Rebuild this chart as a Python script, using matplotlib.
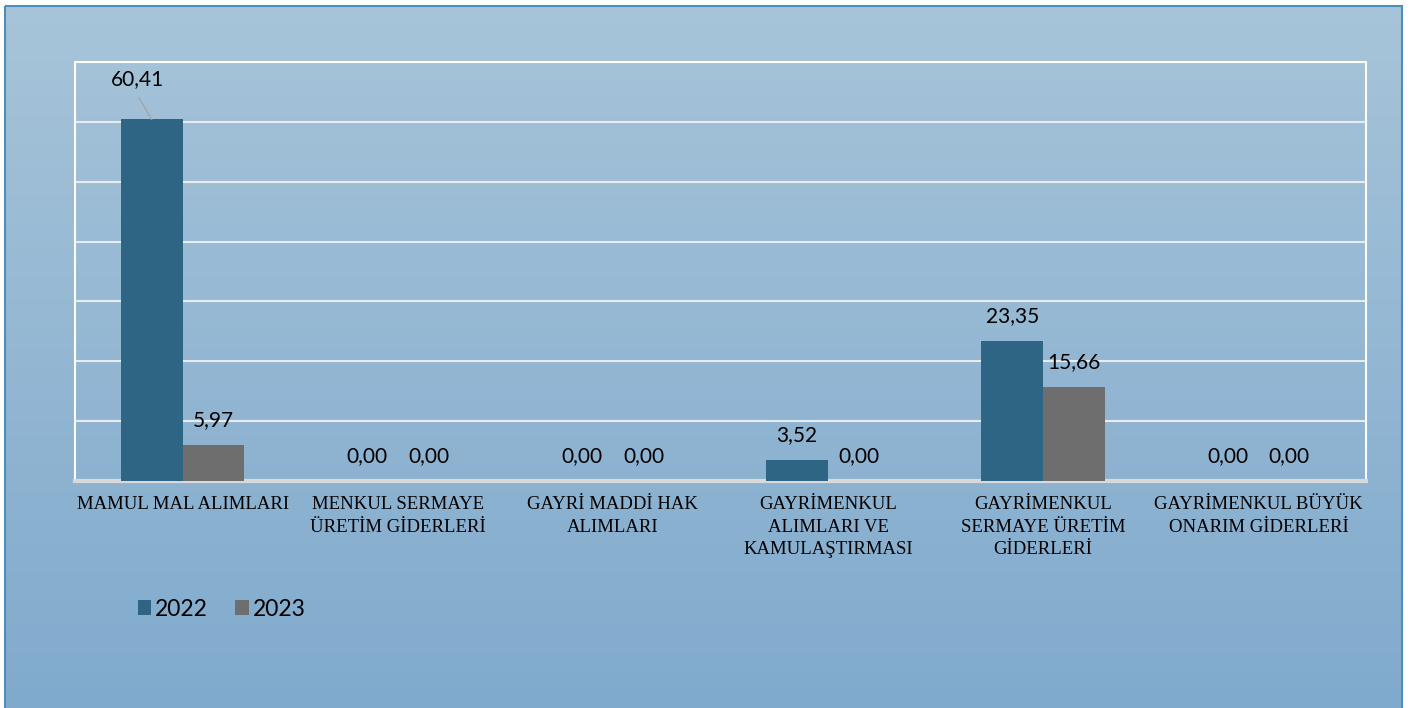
import numpy as np
import matplotlib.pyplot as plt
from matplotlib.colors import LinearSegmentedColormap
from matplotlib.patches import Rectangle

# Veri
kategoriler = ["MAMUL MAL ALIMLARI",
               "MENKUL SERMAYE\nÜRETİM GİDERLERİ",
               "GAYRİ MADDİ HAK\nALIMLARI",
               "GAYRİMENKUL\nALIMLARI VE\nKAMULAŞTIRMASI",
               "GAYRİMENKUL\nSERMAYE ÜRETİM\nGİDERLERİ",
               "GAYRİMENKUL BÜYÜK\nONARIM GİDERLERİ"]
yil_2022 = [60.41, 0.00, 0.00, 3.52, 23.35, 0.00]
yil_2023 = [5.97, 0.00, 0.00, 0.00, 15.66, 0.00]

W, H = 1416, 708
fig = plt.figure(figsize=(W / 100, H / 100), dpi=100)

# arka plan: gradyan + çerçeve
bg = fig.add_axes([0, 0, 1, 1], zorder=0)
bg.set_xlim(0, W)
bg.set_ylim(H, 0)
bg.axis("off")
cmap = LinearSegmentedColormap.from_list("bg", ["#A7C4D9", "#80AACD"])
grad = np.linspace(0, 1, 256).reshape(-1, 1)
bg.imshow(grad, cmap=cmap, extent=[5, 1402, H, 6], aspect="auto")
bg.add_patch(Rectangle((5, 6), 1397, H, fill=False, edgecolor="#4A8FBE", linewidth=1.5))

ax = fig.add_axes([75 / W, 1 - 481 / H, (1366 - 75) / W, (481 - 62) / H], zorder=1)
ax.patch.set_alpha(0)

x = np.arange(len(kategoriler))
w = 0.287
b1 = ax.bar(x - w / 2, yil_2022, w, color="#2F6584", label="2022", zorder=3)
b2 = ax.bar(x + w / 2, yil_2023, w, color="#6E6E6E", label="2023", zorder=3)

ax.set_xlim(-0.5, len(kategoriler) - 0.5)
ax.set_ylim(0, 70)
ax.set_yticks(np.arange(0, 71, 10))
ax.set_yticklabels([])
ax.tick_params(axis="y", length=0)
ax.tick_params(axis="x", length=0, pad=11)
ax.grid(axis="y", color="#E6ECF0", linewidth=1.5, zorder=1)
ax.set_xticks(x)
ax.set_xticklabels(kategoriler, fontfamily="Liberation Serif", fontsize=13.5,
                   linespacing=1.42, va="top")

for s in ["left", "top", "right"]:
    ax.spines[s].set_color("white")
    ax.spines[s].set_linewidth(1.5)
ax.spines["bottom"].set_color("#D9D9D9")
ax.spines["bottom"].set_linewidth(3)

def etiket(v):
    return f"{v:.2f}".replace(".", ",")

for bars, vals in [(b1, yil_2022), (b2, yil_2023)]:
    for r, v in zip(bars, vals):
        cx = r.get_x() + r.get_width() / 2
        if v > 50:
            # etiket yukarıda, ince bağlantı çizgisiyle
            ax.annotate("", xy=(cx, v), xytext=(-13, 22), textcoords="offset pixels",
                        arrowprops=dict(arrowstyle="-", color="#A6A6A6", lw=1,
                                        shrinkA=0, shrinkB=0))
            ax.annotate(etiket(v), xy=(cx, v), xytext=(-14, 40), textcoords="offset pixels",
                        ha="center", va="center", fontsize=15, fontfamily="Lato")
        else:
            ax.annotate(etiket(v), xy=(cx, v), xytext=(0, 25), textcoords="offset pixels",
                        ha="center", va="center", fontsize=15, fontfamily="Lato")

fig.legend(handles=[b1, b2], labels=["2022", "2023"], loc="center left",
           bbox_to_anchor=(117 / W, 1 - 609 / H), ncol=2, frameon=False,
           prop={"family": "Lato", "size": 16.5}, handlelength=0.6, handleheight=0.6,
           handletextpad=0.15, columnspacing=1.2)

fig.savefig("out.png", dpi=100)
